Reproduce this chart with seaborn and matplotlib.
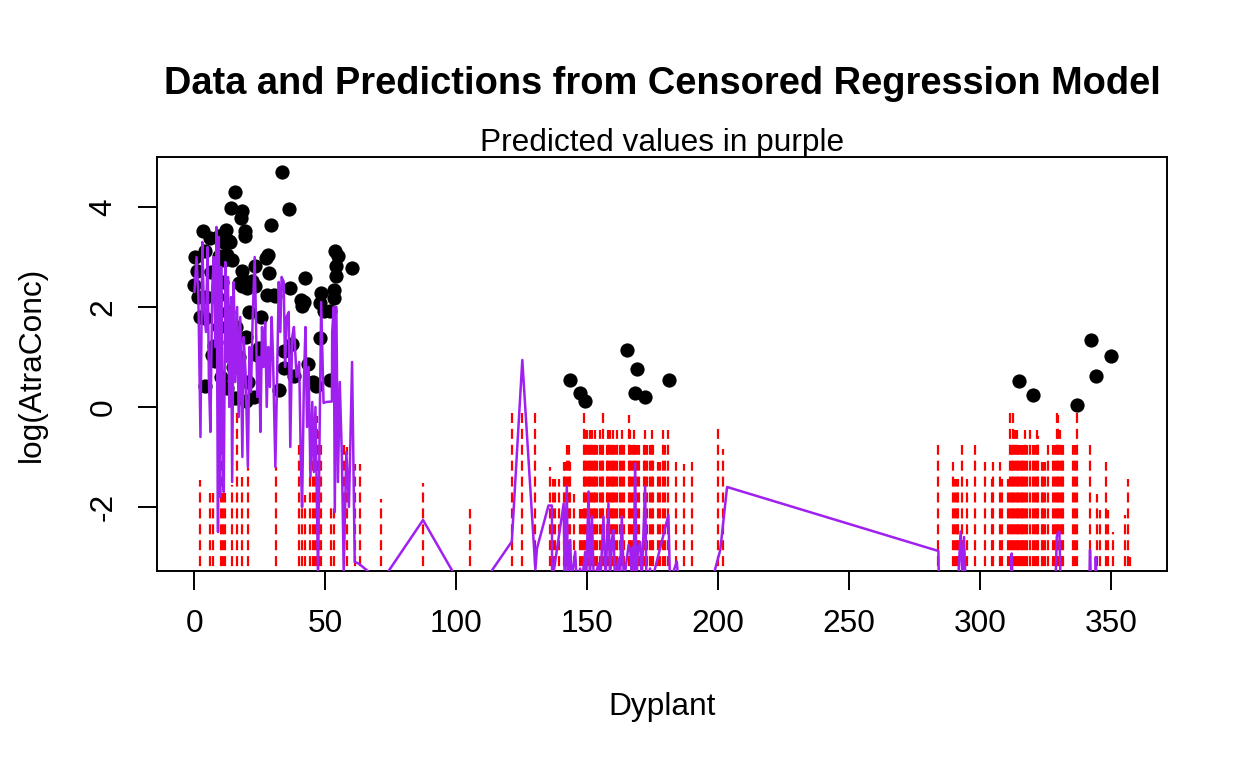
import numpy as np
import pandas as pd
import matplotlib
matplotlib.use("Agg")
import matplotlib.pyplot as plt
import seaborn as sns

# uncensored observations (black points)
obs_x = [0.0, 0.4, 1.0, 1.2, 2.0, 3.3, 4.2, 4.2, 4.2, 4.6, 6.1, 6.5, 6.8, 7.4, 8.0,
         8.5, 9.3, 9.3, 9.5, 10.0, 10.5, 11.2, 11.8, 12.1, 12.5, 12.5, 12.8, 13.1,
         13.7, 13.5, 14.1, 14.4, 14.6, 15.3, 15.6, 16.0, 16.9, 17.2, 17.6, 18.2, 18.2,
         18.4, 18.2, 19.2, 19.2, 19.5, 19.8, 20.1, 20.5, 21.0, 22.0, 22.6, 23.0, 23.3,
         23.9, 24.8, 25.6, 27.5, 27.7, 27.9, 28.4, 29.1, 30.3, 30.9, 32.2, 33.4, 34.1,
         34.1, 36.0, 36.6, 37.3, 38.2, 40.6, 41.1, 41.7, 42.4, 43.5, 45.4, 46.5, 48.1,
         48.1, 48.4, 49.4, 51.9, 51.9, 53.2, 53.2, 53.8, 54.2, 54.2, 55.0, 60.2,
         143.3, 147.3, 149.2, 165.2, 168.1, 169.0, 172.1, 181.2,
         315.0, 320.1, 337.1, 342.2, 344.2, 350.0]
obs_y = [2.44, 3.0, 2.71, 2.2, 1.8, 3.52, 0.42, 3.11, 1.77, 2.2, 3.37, 2.7, 1.04, 1.21, 0.91,
         2.2, 3.41, 3.01, 1.6, 0.6, 2.5, 2.94, 3.27, 3.54, 3.04, 0.37, 1.9, 3.31,
         3.29, 1.3, 3.97, 2.94, 0.8, 4.29, 0.17, 1.6, 2.47, 1.0, 3.77, 3.91, 2.71,
         2.54, 2.41, 3.52, 3.41, 0.11, 1.4, 2.37, 0.5, 1.9, 2.51, 0.19, 2.81, 2.41,
         1.04, 1.17, 1.79, 2.97, 2.24, 3.04, 2.67, 3.64, 2.24, 2.21, 0.33, 4.69, 1.11,
         0.77, 3.96, 2.37, 1.25, 0.61, 2.13, 2.01, 2.1, 2.58, 0.86, 0.5, 0.42, 2.07,
         1.37, 2.27, 1.91, 1.91, 0.54, 2.34, 2.17, 3.11, 2.81, 2.61, 3.01, 2.77,
         0.54, 0.27, 0.11, 1.14, 0.27, 0.75, 0.19, 0.54,
         0.51, 0.24, 0.04, 1.33, 0.61, 1.01]

# censored observations: Dyplant and log detection limit (red dashed)
cens_x = [2.3, 6.1, 7.0, 10.2, 11.0, 11.6, 14.4, 16.3, 18.3, 20.4, 31.2, 40.1, 41.0,
          42.1, 44.3, 45.3, 46.2, 46.8, 47.5, 48.4, 52.3, 53.2, 57.3, 58.3, 61.2, 63.1,
          71.3, 87.3, 105.3, 121.2, 125.2, 130.2,
          135.9, 136.8, 137.8, 139.1, 141.0, 141.6, 142.2, 142.9, 143.5, 144.8, 147.3,
          148.0, 148.6, 149.2, 149.9, 150.5, 151.1, 151.8, 152.4, 153.1, 153.7, 155.0,
          155.6, 156.2, 157.5, 158.1, 158.8, 159.4, 160.0, 160.7, 161.3, 162.6, 163.2,
          163.9, 165.8, 166.4, 167.1, 167.7, 168.3, 169.0, 169.6, 171.5, 172.1, 172.8,
          174.0, 174.7, 175.3, 177.2, 177.9, 179.1, 179.8, 181.0, 184.0, 186.8, 190.0,
          199.8, 201.8,
          284.1, 289.8, 290.5, 291.1, 291.7, 293.0, 294.9, 298.1, 301.9, 304.5, 305.1,
          307.6, 308.3, 310.8, 311.5, 312.1, 312.7, 313.4, 314.0, 314.6, 315.3, 315.9,
          316.5, 317.2, 317.8, 319.1, 320.3, 321.0, 321.6, 322.3, 323.5, 324.2, 324.8,
          326.1, 328.0, 328.6, 329.3, 329.9, 330.5, 331.2, 331.8, 335.6, 336.3, 336.9,
          342.0, 344.5, 345.8, 348.0, 348.7, 350.9, 355.3, 356.4, 357.3]
cens_top = [-1.46, -1.72, -1.72, -0.29, -1.72, -1.72, -1.56, -0.1, -1.39, -1.22, -1.19, -0.76, -1.4,
            -1.76, -1.06, -0.76, -0.49, -0.19, -0.49, -0.76, -2.02, -2.02, -0.76, -0.8, -1.13, -1.13,
            -1.83, -1.52, -2.03, -0.12, -0.12, -0.12,
            -1.19, -1.43, -1.43, -1.43, -1.09, -1.09, -0.76, -0.76, -1.09, -1.73, -2.03,
            -2.03, -0.13, -0.46, -0.46, -0.76, -0.46, -0.46, -0.76, -0.46, -0.76, -0.46,
            -0.76, -0.13, -0.76, -0.46, -0.46, -0.76, -0.46, -0.76, -0.46, -0.76, -0.46,
            -0.76, -0.16, -0.46, -0.76, -0.46, -0.76, -0.76, -0.76, -0.76, -0.46, -0.76,
            -0.76, -0.46, -0.76, -1.09, -1.09, -0.46, -0.76, -0.46, -1.09, -1.13, -1.09,
            -0.44, -0.84,
            -0.76, -1.09, -1.43, -1.43, -1.43, -0.76, -1.43, -0.76, -1.09, -1.43, -1.09,
            -1.09, -1.43, -1.43, -0.13, -0.76, -0.13, -0.46, -0.46, -0.76, -0.76, -0.76,
            -0.76, -0.46, -0.76, -0.46, -0.76, -0.76, -0.46, -0.59, -1.09, -1.09, -1.09,
            -0.76, -0.76, -0.76, -0.13, -0.16, -0.46, -0.76, -0.76, -0.76, -0.76, -0.13,
            -0.76, -1.73, -2.06, -1.09, -2.06, -2.49, -2.16, -1.43, -2.99]

# model predictions, in data order (purple)
pred_x = [0.0, 0.8, 1.5, 2.3, 3.0, 3.6, 4.4, 5.0, 5.5, 6.1, 6.8, 7.4, 8.0, 8.4, 9.0, 9.3,
          9.8, 10.2, 10.6, 11.2, 11.8, 12.2, 12.8, 13.3, 14.0, 14.4, 15.0, 15.6, 16.3,
          16.9, 17.5, 18.3, 18.8, 19.5, 20.4, 21.0, 21.6, 22.2, 23.0, 23.4, 24.0, 24.7,
          25.2, 25.8, 26.4, 27.0, 27.6, 28.2, 28.8, 29.5, 30.0, 30.9, 31.5, 32.2, 32.8,
          33.3, 34.1, 34.6, 35.2, 36.0, 36.6, 37.3, 38.0, 39.0, 40.0, 40.6, 41.1, 41.8,
          42.4, 43.0, 43.6, 44.3, 45.0, 45.6, 46.2, 47.2, 47.8, 48.4, 49.3, 50.3, 52.5,
          52.6, 53.2, 53.6, 54.2, 54.8, 55.5, 56.3, 57.0, 58.0, 59.0, 60.2, 61.2, 62.7,
          71.3, 87.3, 105.3, 121.2, 125.2, 130.2, 130.8, 135.2, 136.5, 136.6,
          141.0, 141.4, 142.2, 142.6, 143.5, 144.0, 145.4, 146.0, 147.3, 148.0, 149.2,
          149.6, 150.5, 151.0, 151.8, 152.5, 154.3, 155.0, 156.2, 157.0, 158.1, 158.7,
          159.4, 160.0, 160.6, 161.9, 162.5, 163.2, 164.0, 165.8, 166.5, 167.0, 167.3,
          167.7, 168.3, 168.8, 169.3, 170.2, 170.8, 172.1, 172.6, 174.0, 174.6, 181.0,
          181.6, 184.2, 185.0, 197.0, 200.8, 203.4, 284.1, 284.3, 291.5, 292.6, 293.4,
          293.9, 294.5, 311.8, 312.1, 312.4, 328.8, 329.3, 329.8, 330.3, 330.8, 341.7,
          342.0, 342.4, 343.9, 344.2, 344.6]
pred_y = [2.3, 3.0, 2.2, -0.6, 3.3, 2.0, 1.5, 3.2, 0.6, -0.5, 2.4, 3.0, 1.2, 3.6, -2.5, 3.4,
          -1.8, 2.8, 0.2, -1.7, 2.9, 0.9, 2.6, 0.0, 2.2, -1.5, 2.5, 0.5, 2.0,
          -0.2, 1.8, -1.0, 1.4, 0.7, -1.2, 1.2, 0.3, 1.7, 3.0, 2.0, 0.2, 1.0,
          -0.5, 1.6, 0.8, 1.7, 0.0, 1.2, 0.4, 1.8, 1.0, -1.2, 0.4, 2.5, 1.5,
          2.6, 2.5, 0.8, 1.8, 1.9, -0.8, 1.4, 1.6, 0.6, 0.9, -1.0, -2.0, 0.5,
          1.6, -0.4, 0.8, -1.4, 0.1, -1.3, 0.0, -3.4, -0.5, 2.1, 0.08, 0.1, 0.11,
          1.5, 2.0, -2.1, 2.0, -1.5, 0.5, -1.0, -3.3, -0.9, -2.0, 0.9, -3.1, -3.13,
          -3.5, -2.26, -3.9, -2.69, 0.94, -3.25, -2.83, -1.97, -1.97, -3.5,
          -1.93, -3.5, -1.59, -3.5, -2.66, -3.5, -2.89, -3.5, -3.23, -3.5, -2.9,
          -3.5, -1.69, -3.5, -2.19, -3.5, -3.13, -3.5, -2.19, -3.5, -1.93, -3.5,
          -2.66, -2.46, -3.5, -3.03, -3.5, -2.19, -3.5, -2.76, -2.9, -3.4, -2.8,
          -3.4, -1.13, -3.5, -2.9, -2.7, -3.5, -1.59, -3.5, -3.23, -3.5, -2.16,
          -3.5, -3.09, -3.6, -3.6, -2.86, -1.6, -2.88, -3.6, -3.6, -2.49, -3.6,
          -2.6, -3.6, -3.6, -2.93, -3.6, -3.6, -2.6, -2.5, -2.49, -3.6, -3.6,
          -2.86, -3.6, -3.6, -3.0, -3.6]

x_ticks = [0, 50, 100, 150, 200, 250, 300, 350]
y_ticks = [-2, 0, 2, 4]

sns.set_style("ticks")
plt.rcParams["font.family"] = ["Liberation Sans", "DejaVu Sans"]
plt.rcParams["lines.scale_dashes"] = False
for key in ["text.color", "axes.labelcolor", "xtick.color", "ytick.color",
            "xtick.labelcolor", "ytick.labelcolor", "axes.edgecolor"]:
    plt.rcParams[key] = "black"

obs_df = pd.DataFrame({"Dyplant": obs_x, "logAtra": obs_y})
pred_df = pd.DataFrame({"Dyplant": pred_x, "pred": pred_y})

fig, ax = plt.subplots(figsize=(12.48, 7.68), dpi=100)
fig.subplots_adjust(left=0.1258, right=0.9351, bottom=0.2565, top=0.7956)

sns.scatterplot(data=obs_df, x="Dyplant", y="logAtra", ax=ax, color="black",
                s=105, linewidth=0, zorder=2)

# censored values drawn as dashed segments up to the detection limit
ax.vlines(cens_x, -3.508, cens_top, colors="#FF0000", linewidth=1.6,
          linestyles=[(0, (7.2, 4.25))], zorder=3)

sns.lineplot(data=pred_df, x="Dyplant", y="pred", ax=ax, sort=False, estimator=None,
             color="#A020F0", linewidth=1.8, zorder=4)

ax.set_xlim(-14.3, 371.4)
ax.set_ylim(-3.28, 5.0)
ax.set_xticks(x_ticks)
ax.set_yticks(y_ticks)
ax.set_xticklabels([str(t) for t in x_ticks])
ax.set_yticklabels([str(t) for t in y_ticks], rotation=90, va="center")

for sp in ax.spines.values():
    sp.set_visible(True)
    sp.set_linewidth(1.4)
    sp.set_color("black")
ax.tick_params(length=13.7, width=1.4, labelsize=22.8, pad=14, color="black",
               labelcolor="black")

ax.set_xlabel("Dyplant", fontsize=22.8, labelpad=38, color="black")
ax.set_ylabel("log(AtraConc)", fontsize=22.8, labelpad=30, color="black")

ax.text(0.5, 1.1529, "Data and Predictions from Censored Regression Model",
        transform=ax.transAxes, ha="center", va="baseline", fontsize=27.4,
        fontweight="bold", color="black")
ax.text(0.5, 1.0145, "Predicted values in purple", transform=ax.transAxes,
        ha="center", va="baseline", fontsize=22.8, color="black")

fig.savefig("out.png", dpi=100, facecolor="white")
